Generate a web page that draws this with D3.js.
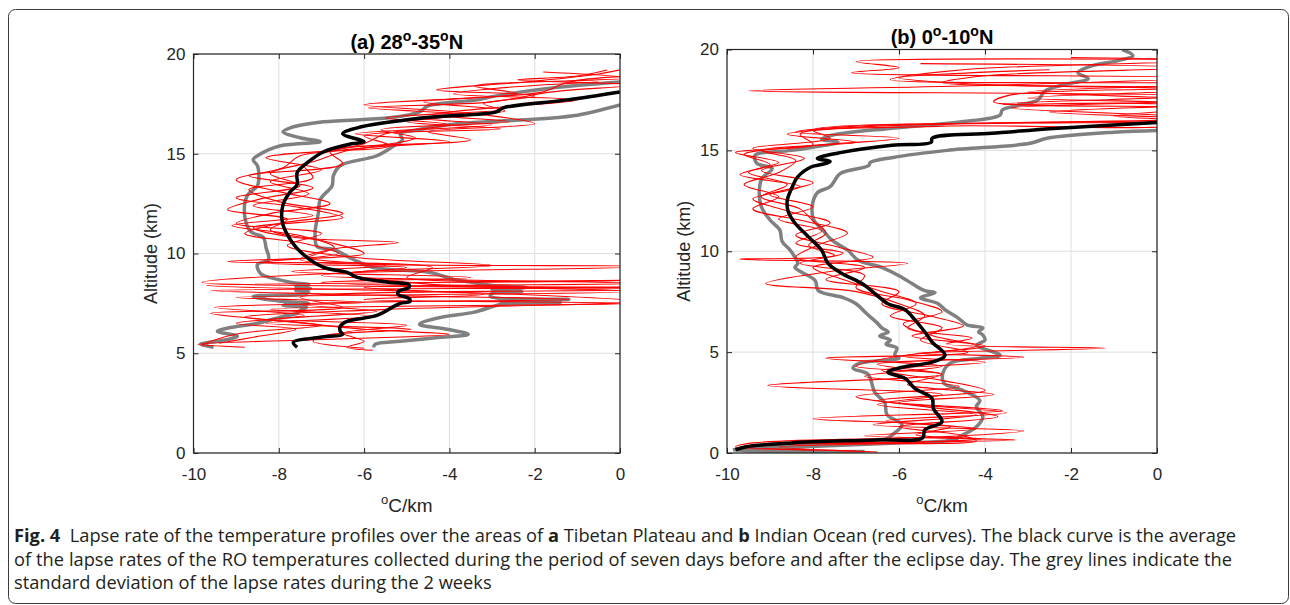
<!DOCTYPE html>
<html>
<head>
<meta charset="UTF-8">
<title>Lapse rate of the temperature profiles</title>
<script src="https://cdn.jsdelivr.net/npm/d3@7"></script>
<style>
  body { margin: 0; background: #fff; }
</style>
</head>
<body>
<svg id="fig" width="1290" height="605"></svg>
<script>
// every profile is a list of [altitude (km), lapse rate (°C/km)]
const xTicks = [-10, -8, -6, -4, -2, 0];
const yTicks = [0, 5, 10, 15, 20];

// (a) Tibetan Plateau, 28-35N
const tibetMean = [[18.1,0],[17.7,-1.24],[17.3,-2.74],[17.1,-2.9],[16.8,-4.6],[16.3,-6.16],[16.0,-6.5],[15.6,-6.0],[15.5,-6.3],
  [15.1,-6.95],[14.55,-7.33],[14.05,-7.57],[13.45,-7.57],[13.1,-7.73],[12.45,-7.9],[11.6,-7.92],[10.95,-7.8],[10.1,-7.5],
  [9.3,-6.95],[9.05,-6.4],[8.8,-6.16],[8.55,-5.4],[8.45,-4.95],[8.3,-4.95],[8.1,-5.2],[7.95,-5.2],[7.75,-4.95],[7.6,-4.92],
  [7.5,-5.15],[7.35,-5.3],[6.9,-5.7],[6.6,-6.4],[6.35,-6.56],[6.1,-6.56],[5.95,-6.5],[5.8,-7.03],[5.55,-7.66],[5.3,-7.57]];
const tibetStdLeft = [[18.6,0],[18.3,-1.6],[17.9,-2.9],[17.7,-3.35],[17.4,-4.5],[17.1,-4.7],[16.8,-5.4],[16.6,-6.95],[16.3,-7.73],
  [16.1,-7.9],[15.8,-7.5],[15.6,-7.03],[15.4,-7.96],[14.9,-8.5],[14.7,-8.6],[14.4,-8.5],[14.05,-8.47],[13.4,-8.5],[12.9,-8.74],
  [11.9,-8.8],[11.1,-8.66],[10.8,-8.36],[10.3,-8.3],[9.7,-8.24],[9.45,-8.5],[9.0,-8.43],[8.7,-8.03],[8.55,-7.7],[8.45,-7.3],
  [8.35,-7.6],[8.25,-7.26],[8.15,-7.6],[8.05,-7.3],[7.95,-7.5],[7.85,-8.6],[7.7,-8.3],[7.6,-7.9],[7.5,-7.3],[7.4,-7.9],
  [7.3,-7.35],[7.15,-7.5],[7.0,-7.56],[6.85,-7.9],[6.5,-8.5],[6.3,-9.1],[6.1,-9.44],[5.85,-8.97],[5.65,-9.3],[5.45,-9.84],[5.3,-9.53]];
const tibetStdRight = [[17.45,0],[16.9,-1.1],[16.7,-2.27],[16.5,-3.82],[16.2,-4.75],[16.0,-5.15],[15.7,-5.1],[15.4,-5.3],
  [14.9,-5.7],[14.4,-6.56],[13.9,-6.72],[13.4,-6.75],[12.7,-7.03],[12.05,-7.07],[11.05,-7.15],[10.35,-7.1],[10.2,-6.72],
  [9.7,-6.25],[9.3,-5.78],[9.05,-4.45],[8.7,-3.9],[8.55,-3.44],[8.4,-3.0],[8.3,-2.2],[8.2,-3.0],[8.1,-2.3],[8.0,-3.0],
  [7.85,-3.04],[7.75,-2.8],[7.7,-1.2],[7.6,-2.8],[7.55,-1.4],[7.45,-2.8],[7.35,-2.97],[7.05,-3.44],[6.8,-4.2],[6.45,-4.7],
  [6.2,-4.05],[5.95,-3.56],[5.8,-4.2],[5.6,-5.15],[5.45,-5.74],[5.3,-5.78]];
const tibetRO = [
  [[19.2,-0.3],[18.9,-1.0],[18.7,-2.4],[18.45,0.3],[18.1,-1.6],[17.6,-3.0],[17.3,-5.9],[16.9,-3.0],[16.5,-2.0],[16.1,-4.5],
   [15.7,-3.5],[15.2,-6.3],[14.6,-7.2],[14.0,-8.2],[13.4,-7.5],[12.8,-9.0],[12.3,-7.5],[11.8,-6.5],[11.3,-8.6],[10.8,-7.6],
   [10.55,-5.2],[10.2,-6.8],[9.7,-7.5],[9.35,0.5],[9.0,-6.8],[8.55,-9.8],[8.2,0.5],[7.8,-7.5],[7.3,-6.5],[7.0,-9.6],
   [6.6,-7.8],[6.2,-6.0],[5.95,-4.0],[5.7,-6.8],[5.45,-9.9],[5.3,-8.8]],
  [[19.3,0.2],[19.0,-0.5],[18.6,-2.2],[18.2,-4.3],[17.9,-2.0],[17.5,-3.2],[17.15,-2.7],[16.8,-4.8],[16.45,-3.0],[16.0,-6.2],
   [15.6,-4.0],[15.1,-6.8],[14.5,-6.5],[13.9,-8.7],[13.3,-7.2],[12.7,-8.5],[12.2,-9.2],[11.7,-7.8],[11.2,-8.2],[10.6,-6.9],
   [10.0,-6.0],[9.6,-9.2],[9.3,-4.4],[8.8,-5.0],[8.65,0.4],[8.4,-9.7],[8.0,-3.0],[7.6,0.4],[7.2,-5.5],[6.8,-8.8],[6.4,-7.0],
   [6.0,-8.9],[5.6,-9.6],[5.4,-9.8]],
  [[18.9,0.3],[18.6,-1.2],[18.1,-1.8],[17.8,-3.5],[17.45,-6.0],[17.0,-3.5],[16.6,-5.0],[16.25,-2.8],[15.9,-6.0],[15.4,-5.4],
   [14.9,-7.5],[14.3,-7.9],[13.7,-9.0],[13.1,-8.0],[12.5,-6.8],[12.0,-8.2],[11.5,-9.0],[11.0,-7.0],[10.4,-7.8],[9.8,-6.2],
   [9.4,-3.0],[9.0,-6.4],[8.45,-4.4],[8.3,0.4],[8.15,-9.6],[7.9,-5.5],[7.7,-1.2],[7.45,-7.5],[7.1,-5.7],[6.7,-8.0],
   [6.4,-5.0],[6.0,-6.5],[5.6,-6.0],[5.3,-6.4],[5.15,-5.8]],
  [[18.6,-0.5],[18.3,-2.8],[18.0,-3.9],[17.7,-1.0],[17.3,-3.0],[16.95,-4.4],[16.6,-2.6],[16.2,-5.6],[15.8,-4.8],[15.3,-6.0],
   [14.8,-8.3],[14.2,-7.0],[13.6,-8.2],[13.0,-7.3],[12.4,-8.6],[11.9,-7.2],[11.4,-9.1],[10.9,-7.5],[10.3,-6.7],[9.8,-7.3],
   [9.4,-5.5],[9.1,-7.7],[8.8,-3.5],[8.55,-7.0],[8.1,0.4],[7.8,-9.0],[7.55,-6.0],[7.3,-9.5],[6.9,-7.4],[6.5,-9.0],
   [6.2,-7.6],[5.8,-8.6],[5.5,-9.4]],
  [[19.1,-1.8],[18.8,0.2],[18.4,-3.4],[18.0,-2.4],[17.6,-4.6],[17.2,-2.8],[16.8,-5.5],[16.45,-4.0],[16.0,-5.5],[15.5,-6.0],
   [15.0,-7.0],[14.4,-7.4],[13.8,-7.2],[13.2,-8.7],[12.6,-8.0],[12.0,-6.5],[11.5,-8.0],[11.0,-8.8],[10.5,-7.4],[10.0,-6.6],
   [9.55,-8.4],[9.3,-5.0],[8.9,-7.0],[8.7,-4.2],[8.5,0.4],[8.3,-6.0],[7.95,-3.2],[7.7,-6.0],[7.5,0.4],[7.2,-8.2],
   [6.85,-5.8],[6.5,-8.3],[6.2,-4.9],[5.9,-6.9],[5.6,-7.2],[5.25,-6.0]]
];

// (b) Indian Ocean, 0-10N
const oceanMean = [[16.4,0.2],[16.1,-2.3],[15.85,-3.84],[15.6,-5.23],[15.4,-5.25],[15.25,-6.16],[14.9,-7.33],[14.6,-7.9],
  [14.45,-7.6],[14.3,-7.8],[14.2,-8.02],[13.7,-8.35],[13.1,-8.5],[12.5,-8.6],[12.0,-8.58],[11.4,-8.42],[10.7,-8.1],[10.05,-7.8],
  [9.4,-7.65],[8.9,-7.33],[8.4,-6.86],[7.9,-6.56],[7.4,-6.26],[7.1,-5.86],[6.6,-5.63],[6.0,-5.4],[5.5,-5.23],[4.85,-4.93],
  [4.5,-5.23],[4.25,-5.93],[4.0,-6.26],[3.7,-5.86],[3.2,-5.63],[2.7,-5.23],[2.2,-5.2],[1.55,-5.0],[1.15,-5.4],[0.75,-5.45],
  [0.65,-6.56],[0.5,-8.5],[0.3,-9.58],[0.15,-9.8]];
const oceanStdLeft = [[20.0,-0.81],[19.7,-0.56],[19.45,-0.9],[19.2,-1.5],[18.85,-1.84],[18.55,-1.6],[18.3,-2.07],[17.95,-2.6],
  [17.5,-2.77],[17.2,-3.3],[17.0,-3.6],[16.75,-3.65],[16.4,-4.63],[16.1,-6.16],[15.75,-7.56],[15.55,-7.8],[15.4,-7.42],
  [15.0,-8.5],[14.75,-9.35],[14.35,-9.3],[14.1,-8.95],[13.6,-9.19],[12.9,-9.25],[12.2,-9.2],[11.55,-9.0],[11.05,-8.77],
  [10.5,-8.72],[10.05,-8.53],[9.7,-8.42],[9.4,-8.35],[9.2,-8.42],[8.55,-7.95],[8.05,-7.88],[7.7,-7.3],[7.4,-7.0],[6.9,-6.75],
  [6.45,-6.51],[6.2,-6.4],[6.0,-6.25],[5.8,-6.45],[5.6,-6.2],[5.4,-6.3],[5.2,-6.05],[4.85,-6.1],[4.7,-6.0],[4.45,-6.91],
  [4.2,-7.07],[3.9,-6.72],[3.0,-6.56],[2.5,-6.33],[1.9,-6.28],[1.4,-5.93],[0.9,-6.16],[0.7,-6.3],[0.5,-7.6],[0.3,-9.53],[0.15,-9.86]];
const oceanStdRight = [[16.0,0.2],[15.9,-1.0],[15.6,-2.56],[15.35,-2.95],[15.0,-4.88],[14.65,-6.14],[14.4,-6.67],[14.25,-6.7],
  [13.85,-7.37],[13.2,-7.6],[12.9,-7.9],[12.2,-8.02],[11.55,-7.98],[11.05,-7.77],[10.55,-7.56],[10.05,-7.19],[9.55,-6.95],
  [9.2,-6.4],[8.7,-5.93],[8.4,-5.7],[8.05,-5.4],[7.95,-5.16],[7.7,-5.5],[7.4,-5.09],[7.1,-4.93],[6.7,-4.63],[6.35,-4.42],
  [6.2,-4.05],[6.0,-4.15],[5.85,-4.05],[5.6,-4.0],[5.35,-4.19],[4.85,-3.65],[4.7,-4.12],[4.45,-4.81],[3.95,-4.98],[3.45,-4.95],
  [3.1,-4.51],[2.6,-4.12],[2.3,-4.2],[1.8,-4.05],[1.3,-4.2],[0.9,-4.51],[0.65,-4.74],[0.5,-6.05],[0.3,-8.37],[0.22,-9.53],
  [0.12,-9.8],[0.08,-6.8]];
const oceanRO = [
  [[19.5,1.5],[19.4,-7.0],[19.1,-6.0],[18.85,-7.1],[18.6,1.0],[18.2,-4.3],[17.95,-9.5],[17.7,1.0],[17.3,-3.6],[17.0,1.0],
   [16.5,1.0],[16.2,-5.0],[15.8,-8.3],[15.3,-8.0],[14.9,-9.8],[14.4,-8.8],[13.9,-9.5],[13.3,-8.6],[12.7,-9.2],[12.1,-8.3],
   [11.5,-8.0],[10.9,-7.7],[10.3,-8.1],[9.8,-7.5],[9.6,-9.7],[9.4,-5.8],[9.0,-7.6],[8.4,-9.1],[8.0,-7.0],[7.4,-6.0],
   [6.8,-5.4],[6.2,-5.8],[5.7,-4.3],[5.4,-4.9],[5.2,-1.2],[4.95,-5.6],[4.75,-3.1],[4.4,-6.5],[3.9,-5.0],[3.35,-9.05],
   [2.9,-5.0],[2.4,-6.5],[1.9,-4.2],[1.4,-6.6],[1.1,-3.1],[0.8,-5.0],[0.5,-9.4],[0.3,-9.8],[0.15,-8.0]],
  [[19.6,-2.0],[19.45,1.2],[19.0,-4.5],[18.5,-6.2],[18.3,1.2],[17.9,-3.0],[17.5,1.0],[17.1,-3.4],[16.6,1.2],[16.2,-7.0],
   [15.9,-8.4],[15.6,-6.0],[15.2,-8.2],[14.8,-9.6],[14.3,-9.0],[13.8,-9.7],[13.2,-8.3],[12.6,-9.4],[12.0,-8.6],[11.4,-7.6],
   [10.8,-8.4],[10.2,-7.4],[9.7,-6.6],[9.2,-8.0],[8.6,-7.3],[8.0,-6.4],[7.4,-5.6],[6.8,-6.2],[6.2,-5.0],[5.6,-5.5],
   [5.0,-4.4],[4.7,-7.7],[4.3,-5.0],[3.8,-6.8],[3.3,-4.6],[2.8,-7.0],[2.3,-5.4],[1.8,-3.7],[1.3,-6.0],[0.9,-4.6],
   [0.6,-4.2],[0.45,-8.5],[0.3,-9.6],[0.1,-7.0]],
  [[19.3,-5.5],[19.1,0.8],[18.7,-4.0],[18.35,-5.0],[18.1,1.5],[17.75,-3.4],[17.4,-3.8],[17.1,1.0],[16.7,-1.0],[16.45,1.0],
   [16.0,-8.0],[15.6,-7.6],[15.1,-9.4],[14.6,-8.2],[14.0,-9.2],[13.4,-8.0],[12.8,-9.0],[12.2,-8.0],[11.6,-8.8],[11.0,-7.8],
   [10.4,-8.4],[9.9,-7.3],[9.4,-8.3],[8.8,-6.8],[8.2,-7.0],[7.6,-5.8],[7.0,-5.0],[6.4,-5.9],[5.8,-5.2],[5.3,-4.2],
   [4.8,-5.9],[4.5,-4.0],[4.1,-6.4],[3.6,-5.0],[3.1,-4.0],[2.6,-6.5],[2.1,-3.6],[1.7,-8.0],[1.3,-4.8],[0.9,-5.6],
   [0.7,-4.1],[0.5,-6.0],[0.3,-8.8],[0.05,-6.5]],
  [[19.0,-2.5],[18.6,-6.0],[18.3,-4.4],[18.0,1.0],[17.6,-3.0],[17.3,1.2],[16.9,-2.5],[16.55,1.0],[16.2,-6.5],[15.8,-8.6],
   [15.4,-7.0],[15.0,-9.2],[14.5,-8.4],[13.9,-8.8],[13.3,-9.6],[12.7,-8.8],[12.1,-9.4],[11.5,-8.2],[10.9,-7.2],[10.3,-7.9],
   [9.7,-8.4],[9.2,-6.8],[8.6,-7.7],[8.0,-6.0],[7.4,-6.4],[6.8,-5.3],[6.3,-4.5],[5.8,-5.7],[5.3,-4.0],[4.8,-6.0],
   [4.3,-7.0],[3.9,-5.0],[3.4,-5.8],[2.9,-3.8],[2.5,-6.0],[2.0,-3.5],[1.6,-6.3],[1.2,-4.2],[0.85,-6.8],[0.65,-3.3],
   [0.4,-9.0],[0.2,-9.7]]
];

const titleA = ["(a) 28", "o", "-35", "o", "N"];
const titleB = ["(b) 0", "o", "-10", "o", "N"];

const captionLines = [
  [["Fig. 4", true], ["  Lapse rate of the temperature profiles over the areas of ", false], ["a", true],
   [" Tibetan Plateau and ", false], ["b", true], [" Indian Ocean (red curves). The black curve is the average", false]],
  [["of the lapse rates of the RO temperatures collected during the period of seven days before and after the eclipse day. The grey lines indicate the", false]],
  [["standard deviation of the lapse rates during the 2 weeks", false]]
];

const svg = d3.select("#fig");
const axisColor = "#262626";
const plotFont = '"Liberation Sans", Arial, Helvetica, sans-serif';

// outer frame of the figure
svg.append("rect")
  .attr("x", 8.5).attr("y", 9.5)
  .attr("width", 1280).attr("height", 594)
  .attr("rx", 7)
  .attr("fill", "none").attr("stroke", "#3a3a3a").attr("stroke-width", 1);

const panels = [
  { id: "a", left: 193.5, right: 620, top: 54, bottom: 453, title: titleA, titleY: 49,
    mean: tibetMean, sd: [tibetStdLeft, tibetStdRight], ro: tibetRO },
  { id: "b", left: 727, right: 1157, top: 49.5, bottom: 453, title: titleB, titleY: 44,
    mean: oceanMean, sd: [oceanStdLeft, oceanStdRight], ro: oceanRO }
];

panels.forEach(p => {
  const x = d3.scaleLinear().domain([-10, 0]).range([p.left, p.right]);
  const y = d3.scaleLinear().domain([0, 20]).range([p.bottom, p.top]);
  const g = svg.append("g").attr("id", "panel-" + p.id).style("font-family", plotFont);

  // grid
  g.append("g").selectAll("line").data(xTicks).join("line")
    .attr("x1", d => x(d)).attr("x2", d => x(d))
    .attr("y1", p.top).attr("y2", p.bottom)
    .attr("stroke", "#dedede").attr("stroke-width", 1);
  g.append("g").selectAll("line").data(yTicks).join("line")
    .attr("x1", p.left).attr("x2", p.right)
    .attr("y1", d => y(d)).attr("y2", d => y(d))
    .attr("stroke", "#dedede").attr("stroke-width", 1);

  // curves, clipped to the axes box
  g.append("clipPath").attr("id", "clip-" + p.id)
    .append("rect")
    .attr("x", p.left).attr("y", p.top)
    .attr("width", p.right - p.left).attr("height", p.bottom - p.top);

  const plot = g.append("g").attr("clip-path", `url(#clip-${p.id})`);
  const profile = d3.line()
    .x(d => x(d[1]))
    .y(d => y(d[0]))
    .curve(d3.curveCatmullRom.alpha(0.5));

  plot.selectAll("path.sd").data(p.sd).join("path")
    .attr("class", "sd")
    .attr("d", profile)
    .attr("fill", "none").attr("stroke", "#808080")
    .attr("stroke-width", 3.5).attr("stroke-linejoin", "round");

  plot.selectAll("path.ro").data(p.ro).join("path")
    .attr("class", "ro")
    .attr("d", profile)
    .attr("fill", "none").attr("stroke", "#ff0000")
    .attr("stroke-width", 1.1).attr("stroke-linejoin", "round");

  plot.append("path").datum(p.mean)
    .attr("d", profile)
    .attr("fill", "none").attr("stroke", "#000")
    .attr("stroke-width", 3.5).attr("stroke-linejoin", "round");

  // axes with inward ticks on all four sides
  const fmt = d => String(d);
  const bottomAxis = g.append("g").attr("transform", `translate(0,${p.bottom})`)
    .call(d3.axisBottom(x).tickValues(xTicks).tickFormat(fmt).tickSizeInner(-5).tickSizeOuter(0).tickPadding(15));
  const leftAxis = g.append("g").attr("transform", `translate(${p.left},0)`)
    .call(d3.axisLeft(y).tickValues(yTicks).tickFormat(fmt).tickSizeInner(-5).tickSizeOuter(0).tickPadding(8));
  const topAxis = g.append("g").attr("transform", `translate(0,${p.top})`)
    .call(d3.axisTop(x).tickValues(xTicks).tickFormat("").tickSizeInner(-5).tickSizeOuter(0));
  const rightAxis = g.append("g").attr("transform", `translate(${p.right},0)`)
    .call(d3.axisRight(y).tickValues(yTicks).tickFormat("").tickSizeInner(-5).tickSizeOuter(0));

  [bottomAxis, leftAxis, topAxis, rightAxis].forEach(a => {
    a.select(".domain").remove();
    a.selectAll("line").attr("stroke", axisColor);
    a.selectAll("text").attr("fill", axisColor).attr("font-size", 17).attr("font-family", plotFont);
  });

  g.append("rect")
    .attr("x", p.left).attr("y", p.top)
    .attr("width", p.right - p.left).attr("height", p.bottom - p.top)
    .attr("fill", "none").attr("stroke", axisColor).attr("stroke-width", 1.2);

  // title with superscript degree marks
  const cx = (p.left + p.right) / 2;
  const t = g.append("text")
    .attr("x", cx).attr("y", p.titleY)
    .attr("text-anchor", "middle")
    .attr("font-weight", "bold").attr("font-size", 20).attr("fill", "#000");
  p.title.forEach((s, i) => {
    const sup = s === "o";
    t.append("tspan")
      .attr("font-size", sup ? 14 : 20)
      .attr("dy", sup ? -8 : (i > 0 ? 8 : 0))
      .text(s);
  });

  // x label
  const xl = g.append("text")
    .attr("x", cx).attr("y", 512)
    .attr("text-anchor", "middle").attr("fill", axisColor);
  xl.append("tspan").attr("font-size", 13).attr("dy", -8).text("o");
  xl.append("tspan").attr("font-size", 19).attr("dy", 8).text("C/km");

  // y label
  g.append("text")
    .attr("transform", `translate(${p.left - 37},${(p.top + p.bottom) / 2}) rotate(-90)`)
    .attr("text-anchor", "middle")
    .attr("font-size", 18).attr("fill", axisColor)
    .text("Altitude (km)");
});

// caption: one horizontal squeeze for all lines (taken from the last,
// unjustified line), the first two lines justified with word spacing
const capStarts = 14;
const capEnds = [1237, 1233, 492];
const capBase = [542, 565.5, 589];
const capTexts = captionLines.map(parts => {
  const t = svg.append("text")
    .attr("x", 0).attr("y", 0)
    .style("font-family", '"Open Sans", "Noto Sans", sans-serif')
    .style("font-size", "17.5px")
    .style("white-space", "pre")
    .attr("fill", "#231f20");
  parts.forEach(([s, b]) => {
    t.append("tspan").style("font-weight", b ? "bold" : "normal").text(s);
  });
  const spaces = parts.map(d => d[0]).join("").split(" ").length - 1;
  return { t, w: t.node().getComputedTextLength(), spaces };
});
const last = capTexts[capTexts.length - 1];
const k = (capEnds[capTexts.length - 1] - capStarts) / last.w;
capTexts.forEach((c, i) => {
  if (i < capTexts.length - 1) {
    const extra = ((capEnds[i] - capStarts) / k - c.w) / c.spaces;
    c.t.style("word-spacing", extra + "px");
  }
  c.t.attr("transform", `translate(${capStarts},${capBase[i]}) scale(${k},1)`);
});
</script>
</body>
</html>
